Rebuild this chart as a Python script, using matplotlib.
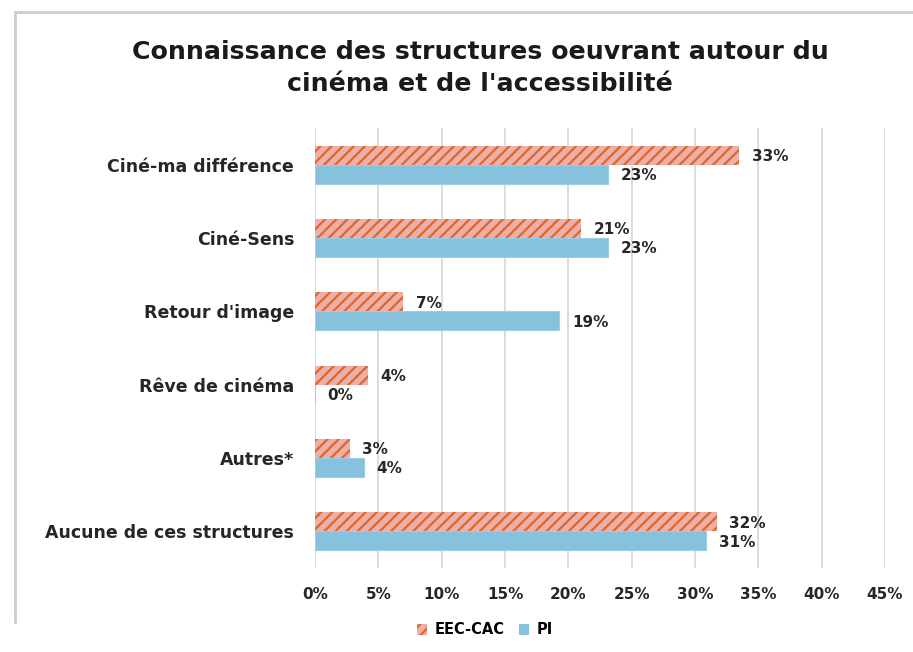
import matplotlib.pyplot as plt
import matplotlib.patches as mpatches
import numpy as np

plt.rcParams['font.family'] = ['DejaVu Sans']
plt.rcParams['hatch.linewidth'] = 1.6
plt.rcParams['hatch.color'] = '#E0652A'

categories = ["Ciné-ma différence", "Ciné-Sens", "Retour d'image",
              "Rêve de cinéma", "Autres*", "Aucune de ces structures"]
eec_cac = [33.5, 21.0, 6.95, 4.2, 2.75, 31.7]
pi = [23.15, 23.15, 19.3, 0.0, 3.85, 30.9]
eec_labels = ["33%", "21%", "7%", "4%", "3%", "32%"]
pi_labels = ["23%", "23%", "19%", "0%", "4%", "31%"]
xticks = [0, 5, 10, 15, 20, 25, 30, 35, 40, 45]

fig = plt.figure(figsize=(9.13, 6.52), dpi=100)
ax = fig.add_axes([315 / 913, 1 - 568 / 652, 570 / 913, 440 / 652])

y = np.arange(len(categories))
h = 0.26
pink = '#EDB0A8'
blue = '#86C1DE'
dark = '#262626'

ax.barh(y - h / 2, eec_cac, height=h, color=pink, hatch='///', edgecolor='#E0652A', linewidth=0, zorder=3)
ax.barh(y + h / 2, pi, height=h, color=blue, edgecolor='#9CCDE6', linewidth=0.8, zorder=3)

for i in range(len(categories)):
    ax.annotate(eec_labels[i], (eec_cac[i], y[i] - h / 2 + 0.02), xytext=(9, 0),
                textcoords='offset points', ha='left', va='center',
                fontsize=11, fontweight='bold', color=dark)
    ax.annotate(pi_labels[i], (pi[i], y[i] + h / 2 + 0.02), xytext=(9, 0),
                textcoords='offset points', ha='left', va='center',
                fontsize=11, fontweight='bold', color=dark)

ax.set_xlim(0, 45)
ax.set_ylim(len(categories) - 0.5, -0.5)
ax.set_xticks(xticks)
ax.set_xticklabels([f"{t}%" for t in xticks], fontsize=11, fontweight='bold', color=dark)
ax.set_yticks(y)
ax.set_yticklabels(categories, fontsize=12.5, fontweight='bold', color=dark)
ax.tick_params(axis='both', length=0)
ax.tick_params(axis='x', pad=14)
ax.tick_params(axis='y', pad=15)
ax.grid(axis='x', color='#D9D9D9', linewidth=1.3, zorder=0)
for s in ax.spines.values():
    s.set_visible(False)

fig.text(480 / 913, 1 - 68 / 652, "Connaissance des structures oeuvrant autour du\ncinéma et de l'accessibilité",
         ha='center', va='center', fontsize=18.2, fontweight='bold', color='#1a1a1a', linespacing=1.45)

# outer frame
fig.add_artist(plt.Line2D([15 / 913, 15 / 913], [1 - 12 / 652, 1 - 622 / 652], color='#CFCFCA', linewidth=2))
fig.add_artist(plt.Line2D([15 / 913, 1], [1 - 12 / 652, 1 - 12 / 652], color='#CFCFCA', linewidth=2))

handles = [mpatches.Patch(facecolor=pink, hatch='///', edgecolor='#E0652A', linewidth=0, label='EEC-CAC'),
           mpatches.Patch(facecolor=blue, label='PI')]
fig.legend(handles=handles, loc='center', bbox_to_anchor=(485 / 913, 1 - 630 / 652), ncol=2,
           frameon=False, handlelength=0.7, handleheight=0.7, handletextpad=0.5,
           columnspacing=1.0, prop={'weight': 'bold', 'size': 10.5})

fig.savefig('out.png', dpi=100)
